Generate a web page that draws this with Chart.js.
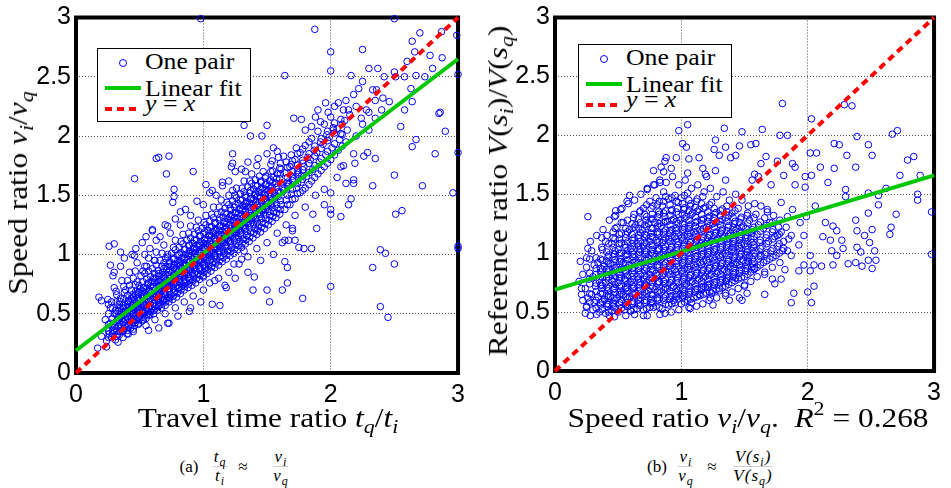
<!DOCTYPE html>
<html lang="en">
<head>
  <meta charset="UTF-8" />
  <title>Speed ratio scatter</title>
  <script src="https://cdn.jsdelivr.net/npm/chart.js"></script>
  <style>
    body { margin: 0; background: #fff; }
    #page { position: relative; width: 951px; height: 488px; overflow: hidden; }
    canvas { position: absolute; top: 0; }
    #chartA { left: 0; }
    #chartB { left: 476px; }
    .cm { position: absolute; font-family: "Liberation Serif", "DejaVu Serif", serif; color: #000; white-space: nowrap; line-height: 1; }
    .cm sub { font-size: 0.7em; vertical-align: -0.3em; line-height: 0; font-style: italic; }
    .cm sup { font-size: 0.7em; vertical-align: 0.6em; line-height: 0; }
    .xt { top: 404px; font-size: 28px; transform: translateX(-50%) scaleX(1.12); }
    .yt { font-size: 28px; transform: translate(-50%, -50%) rotate(-90deg) scaleX(1.12); }
    .legend { position: absolute; width: 154px; height: 74px; box-sizing: border-box; border: 1px solid #000; background: #fff; }
    .legend span { position: absolute; }
    .mk { left: 21px; top: 10px; width: 6px; height: 6px; border: 1px solid #0000ff; border-radius: 50%; }
    .fit { left: 7px; top: 37px; width: 36px; height: 4px; background: #00c800; }
    .idl { left: 7px; top: 58px; width: 36px; height: 4px; background: repeating-linear-gradient(90deg, #ff0000 0 7px, transparent 7px 12px); }
    .legend .lt { left: 47px; font-size: 23px; transform: scaleX(1.12); transform-origin: left; }
    .cp { top: 458px; font-size: 17px; transform: translateX(-50%); }
    .frac { top: 448px; font-size: 17px; font-style: italic; letter-spacing: 1px; transform: translateX(-50%);
            display: flex; flex-direction: column; align-items: center; }
    .frac b { font-weight: normal; display: block; line-height: 1.05; }
    .frac b:first-child { border-bottom: 1px solid #ccc; padding: 0 1px; }
  </style>
</head>
<body>
<div id="page">
  <canvas id="chartA" width="475" height="410"></canvas>
  <canvas id="chartB" width="475" height="410"></canvas>

  <div class="cm yt" style="left:18px;top:193px">Speed ratio <i>v</i><sub>i</sub>/<i>v</i><sub>q</sub></div>
  <div class="cm yt" style="left:498px;top:191px">Reference ratio <i>V</i>(<i>s</i><sub>i</sub>)/<i>V</i>(<i>s</i><sub>q</sub>)</div>
  <div class="cm xt" style="left:268px">Travel time ratio <i>t</i><sub>q</sub>/<i>t</i><sub>i</sub></div>
  <div class="cm xt" style="left:748px">Speed ratio <i>v</i><sub>i</sub>/<i>v</i><sub>q</sub>. &nbsp;<i>R</i><sup>2</sup> = 0.268</div>

  <div class="legend" style="left:97px;top:48px">
    <span class="mk"></span><span class="cm lt" style="top:1px">One pair</span>
    <span class="fit"></span><span class="cm lt" style="top:28px">Linear fit</span>
    <span class="idl"></span><span class="cm lt" style="top:43px"><i>y</i> = <i>x</i></span>
  </div>
  <div class="legend" style="left:578px;top:44px">
    <span class="mk"></span><span class="cm lt" style="top:1px">One pair</span>
    <span class="fit"></span><span class="cm lt" style="top:28px">Linear fit</span>
    <span class="idl"></span><span class="cm lt" style="top:43px"><i>y</i> = <i>x</i></span>
  </div>

  <div class="cm cp" style="left:189px">(a)</div>
  <div class="cm frac" style="left:220px"><b>t<sub>q</sub></b><b>t<sub>i</sub></b></div>
  <div class="cm cp" style="left:243px">≈</div>
  <div class="cm frac" style="left:281px"><b>v<sub>i</sub></b><b>v<sub>q</sub></b></div>

  <div class="cm cp" style="left:657px">(b)</div>
  <div class="cm frac" style="left:686px"><b>v<sub>i</sub></b><b>v<sub>q</sub></b></div>
  <div class="cm cp" style="left:712px">≈</div>
  <div class="cm frac" style="left:753px"><b>V(s<sub>i</sub>)</b><b>V(s<sub>q</sub>)</b></div>
</div>

<script>
  // ticks shared by both panels
  const xTicks = [0, 1, 2, 3];
  const yTicks = [0, 0.5, 1, 1.5, 2, 2.5, 3];

  // reference line y = x and the fitted lines (end points)
  const identityLine = [[0, 0], [3, 3]];
  const fitA = [[0, 0.19], [3, 2.65]];
  const fitB = [[0, 0.69], [3, 1.66]];

  // panel (a): travel time ratio vs speed ratio, dense band
  const coreA = [
    [0.24,0.27],[0.26,0.33],[0.25,0.38],[0.23,0.45],[0.27,0.55],[0.25,0.62],
    [0.28,0.30],[0.29,0.36],[0.27,0.42],[0.30,0.50],[0.28,0.60],
    [0.31,0.28],[0.32,0.35],[0.30,0.40],[0.33,0.47],[0.31,0.53],[0.32,0.66],[0.30,0.72],
    [0.34,0.32],[0.35,0.38],[0.33,0.44],[0.36,0.51],[0.34,0.58],[0.35,0.63],
    [0.37,0.35],[0.38,0.40],[0.36,0.46],[0.39,0.52],[0.37,0.57],[0.38,0.68],[0.36,0.78],
    [0.40,0.33],[0.41,0.39],[0.39,0.45],[0.42,0.50],[0.40,0.55],[0.41,0.61],[0.39,0.70],[0.42,0.85],
    [0.43,0.38],[0.44,0.44],[0.42,0.48],[0.45,0.54],[0.43,0.60],[0.44,0.66],[0.42,0.74],
    [0.46,0.40],[0.47,0.45],[0.45,0.51],[0.48,0.56],[0.46,0.62],[0.47,0.69],[0.45,0.80],[0.48,0.93],
    [0.49,0.42],[0.50,0.48],[0.48,0.53],[0.51,0.58],[0.49,0.64],[0.50,0.71],[0.48,0.77],
    [0.52,0.44],[0.53,0.50],[0.51,0.55],[0.54,0.60],[0.52,0.66],[0.53,0.72],[0.51,0.82],[0.54,0.90],
    [0.55,0.46],[0.56,0.52],[0.54,0.57],[0.57,0.62],[0.55,0.68],[0.56,0.75],[0.54,0.84],[0.57,0.97],
    [0.58,0.49],[0.59,0.54],[0.57,0.60],[0.60,0.65],[0.58,0.70],[0.59,0.77],[0.57,0.86],
    [0.61,0.50],[0.62,0.56],[0.60,0.62],[0.63,0.67],[0.61,0.73],[0.62,0.80],[0.60,0.88],[0.63,1.02],
    [0.64,0.53],[0.65,0.59],[0.63,0.64],[0.66,0.70],[0.64,0.76],[0.65,0.82],[0.63,0.91],
    [0.67,0.55],[0.68,0.61],[0.66,0.67],[0.69,0.72],[0.67,0.78],[0.68,0.85],[0.66,0.95],[0.69,1.08],
    [0.70,0.57],[0.71,0.63],[0.69,0.69],[0.72,0.75],[0.70,0.80],[0.71,0.87],[0.69,0.93],[0.72,1.00],
    [0.73,0.60],[0.74,0.66],[0.72,0.71],[0.75,0.77],[0.73,0.83],[0.74,0.90],[0.72,0.98],
    [0.76,0.62],[0.77,0.68],[0.75,0.74],[0.78,0.79],[0.76,0.86],[0.77,0.92],[0.75,1.01],[0.78,1.12],
    [0.79,0.64],[0.80,0.71],[0.78,0.77],[0.81,0.82],[0.79,0.88],[0.80,0.95],[0.78,1.04],
    [0.82,0.67],[0.83,0.73],[0.81,0.79],[0.84,0.85],[0.82,0.91],[0.83,0.97],[0.81,1.06],[0.84,1.17],
    [0.85,0.70],[0.86,0.76],[0.84,0.82],[0.87,0.88],[0.85,0.93],[0.86,1.00],[0.84,1.09],
    [0.88,0.72],[0.89,0.78],[0.87,0.84],[0.90,0.90],[0.88,0.96],[0.89,1.03],[0.87,1.12],[0.90,1.24],
    [0.91,0.74],[0.92,0.81],[0.90,0.87],[0.93,0.93],[0.91,0.99],[0.92,1.05],[0.90,1.14],
    [0.94,0.76],[0.95,0.83],[0.93,0.89],[0.96,0.95],[0.94,1.01],[0.95,1.08],[0.93,1.17],[0.96,1.29],
    [0.97,0.79],[0.98,0.86],[0.96,0.92],[0.99,0.98],[0.97,1.04],[0.98,1.11],[0.96,1.20],
    [1.00,0.82],[1.01,0.88],[0.99,0.94],[1.02,1.00],[1.00,1.06],[1.01,1.13],[0.99,1.22],[1.02,1.33],
    [1.03,0.84],[1.04,0.91],[1.02,0.97],[1.05,1.03],[1.03,1.09],[1.04,1.16],[1.02,1.25],
    [1.06,0.86],[1.07,0.93],[1.05,0.99],[1.08,1.05],[1.06,1.12],[1.07,1.19],[1.05,1.28],[1.08,1.40],
    [1.09,0.89],[1.10,0.96],[1.08,1.02],[1.11,1.08],[1.09,1.14],[1.10,1.21],[1.08,1.31],
    [1.12,0.91],[1.13,0.98],[1.11,1.05],[1.14,1.11],[1.12,1.17],[1.13,1.24],[1.11,1.34],[1.14,1.46],
    [1.15,0.94],[1.16,1.01],[1.14,1.07],[1.17,1.13],[1.15,1.20],[1.16,1.27],[1.14,1.36],
    [1.18,0.96],[1.19,1.03],[1.17,1.10],[1.20,1.16],[1.18,1.23],[1.19,1.30],[1.17,1.39],[1.20,1.50],
    [1.21,0.99],[1.22,1.06],[1.20,1.12],[1.23,1.19],[1.21,1.25],[1.22,1.33],[1.20,1.42],
    [1.24,1.01],[1.25,1.08],[1.23,1.15],[1.26,1.21],[1.24,1.28],[1.25,1.35],[1.23,1.45],[1.26,1.56],
    [1.27,1.04],[1.28,1.11],[1.26,1.18],[1.29,1.24],[1.27,1.31],[1.28,1.38],[1.26,1.48],
    [1.30,1.06],[1.31,1.13],[1.29,1.20],[1.32,1.27],[1.30,1.34],[1.31,1.41],[1.29,1.51],[1.32,1.62],
    [1.33,1.09],[1.34,1.16],[1.32,1.23],[1.35,1.30],[1.33,1.37],[1.34,1.44],[1.32,1.53],
    [1.36,1.11],[1.37,1.19],[1.35,1.26],[1.38,1.33],[1.36,1.40],[1.37,1.47],[1.35,1.57],[1.38,1.68],
    [1.39,1.14],[1.40,1.22],[1.38,1.29],[1.41,1.36],[1.39,1.43],[1.40,1.50],[1.38,1.60],
    [1.42,1.17],[1.43,1.24],[1.41,1.31],[1.44,1.38],[1.42,1.45],[1.43,1.53],[1.41,1.63],
    [1.45,1.19],[1.46,1.27],[1.44,1.34],[1.47,1.41],[1.45,1.48],[1.46,1.56],[1.44,1.66],
    [1.48,1.22],[1.49,1.30],[1.47,1.37],[1.50,1.44],[1.48,1.51],[1.49,1.59],[1.47,1.70],
    [1.51,1.25],[1.52,1.33],[1.50,1.40],[1.53,1.47],[1.51,1.54],[1.52,1.62],
    [1.54,1.28],[1.55,1.36],[1.53,1.43],[1.56,1.50],[1.54,1.57],[1.55,1.65],[1.53,1.76],
    [1.57,1.31],[1.58,1.39],[1.56,1.46],[1.59,1.53],[1.57,1.60],[1.58,1.68],
    [1.60,1.34],[1.61,1.42],[1.59,1.49],[1.62,1.56],[1.60,1.64],[1.61,1.72],[1.59,1.82],
    [1.64,1.38],[1.65,1.46],[1.63,1.54],[1.66,1.61],[1.64,1.69],[1.65,1.78],
    [1.68,1.42],[1.69,1.51],[1.67,1.59],[1.70,1.66],[1.68,1.74],[1.69,1.84],
    [1.72,1.47],[1.73,1.56],[1.71,1.64],[1.74,1.71],[1.72,1.80],[1.73,1.90],
    [1.76,1.52],[1.77,1.61],[1.75,1.69],[1.78,1.77],[1.76,1.86],
    [1.80,1.56],[1.81,1.66],[1.79,1.74],[1.82,1.82],[1.80,1.92],
    [1.85,1.62],[1.86,1.72],[1.84,1.80],[1.87,1.88],[1.85,1.98],
    [1.90,1.68],[1.91,1.78],[1.89,1.86],[1.92,1.95],[1.90,2.04],
    [1.95,1.74],[1.96,1.84],[1.94,1.93],[1.97,2.01],[1.95,2.10],
    [2.00,1.80],[2.01,1.90],[1.99,1.99],[2.02,2.07],[2.00,2.16],
    [2.06,1.88],[2.07,1.97],[2.05,2.06],[2.08,2.14],
    [2.12,1.95],[2.13,2.05],[2.11,2.13],[2.14,2.22]
  ];
  // more of the band, read as columns: [x, [y values]]
  const bandA = [
    [0.255,[0.30,0.355,0.41,0.50,0.58]],
    [0.285,[0.33,0.39,0.46,0.55]],
    [0.315,[0.31,0.375,0.435,0.50,0.60,0.69]],
    [0.345,[0.35,0.41,0.475,0.545,0.605]],
    [0.375,[0.375,0.43,0.49,0.545,0.625,0.73]],
    [0.405,[0.36,0.42,0.475,0.525,0.58,0.655,0.78]],
    [0.435,[0.41,0.46,0.51,0.57,0.63,0.70]],
    [0.465,[0.425,0.48,0.535,0.59,0.655,0.745,0.86]],
    [0.495,[0.45,0.505,0.555,0.61,0.675,0.74]],
    [0.525,[0.47,0.525,0.575,0.63,0.69,0.77,0.86]],
    [0.555,[0.49,0.545,0.595,0.65,0.715,0.795,0.90]],
    [0.585,[0.515,0.57,0.625,0.675,0.735,0.815]],
    [0.615,[0.53,0.59,0.645,0.70,0.765,0.84,0.95]],
    [0.645,[0.56,0.615,0.67,0.73,0.79,0.865]],
    [0.675,[0.58,0.64,0.695,0.75,0.815,0.90,1.01]],
    [0.705,[0.60,0.66,0.72,0.775,0.835,0.90,0.965]],
    [0.735,[0.63,0.685,0.74,0.80,0.865,0.94]],
    [0.765,[0.65,0.71,0.765,0.825,0.89,0.965,1.06]],
    [0.795,[0.675,0.74,0.795,0.85,0.915,0.995]],
    [0.825,[0.70,0.76,0.82,0.88,0.94,1.015,1.11]],
    [0.855,[0.73,0.79,0.85,0.905,0.965,1.045]],
    [0.885,[0.75,0.81,0.87,0.93,0.995,1.075,1.18]],
    [0.915,[0.775,0.84,0.90,0.96,1.02,1.095]],
    [0.945,[0.795,0.86,0.92,0.98,1.045,1.125,1.23]],
    [0.975,[0.825,0.89,0.95,1.01,1.075,1.155]],
    [1.005,[0.85,0.91,0.97,1.03,1.095,1.175,1.27]],
    [1.035,[0.875,0.94,1.00,1.06,1.125,1.205]],
    [1.065,[0.895,0.96,1.02,1.085,1.155,1.235,1.34]],
    [1.095,[0.925,0.99,1.05,1.11,1.175,1.26]],
    [1.125,[0.945,1.015,1.08,1.14,1.205,1.29,1.40]],
    [1.155,[0.975,1.04,1.10,1.165,1.235,1.315]],
    [1.185,[0.995,1.065,1.13,1.195,1.265,1.345,1.44]],
    [1.215,[1.025,1.09,1.155,1.22,1.29,1.375]],
    [1.245,[1.045,1.115,1.18,1.245,1.315,1.40,1.50]],
    [1.275,[1.075,1.145,1.21,1.275,1.345,1.43]],
    [1.305,[1.095,1.165,1.235,1.305,1.375,1.46,1.56]],
    [1.335,[1.125,1.195,1.265,1.335,1.405,1.485]],
    [1.365,[1.15,1.225,1.295,1.365,1.435,1.52,1.62]],
    [1.395,[1.18,1.255,1.325,1.395,1.465,1.55]],
    [1.425,[1.205,1.275,1.345,1.415,1.49,1.58]],
    [1.455,[1.23,1.305,1.375,1.445,1.52,1.61]],
    [1.485,[1.26,1.335,1.405,1.475,1.55,1.645]],
    [1.515,[1.29,1.365,1.435,1.505,1.58]],
    [1.545,[1.32,1.395,1.465,1.535,1.61,1.705]],
    [1.575,[1.35,1.425,1.495,1.565,1.64]],
    [1.605,[1.38,1.455,1.525,1.60,1.68,1.77]],
    [1.66,[1.42,1.50,1.575,1.65,1.735]],
    [1.70,[1.465,1.55,1.625,1.70,1.79]],
    [1.74,[1.515,1.60,1.675,1.755,1.85]],
    [1.78,[1.54,1.635,1.715,1.795,1.89]],
    [1.83,[1.59,1.69,1.77,1.85,1.95]],
    [1.875,[1.65,1.75,1.83,1.915]],
    [1.925,[1.71,1.81,1.895,1.98]],
    [1.975,[1.77,1.87,1.96,2.04]],
    [2.03,[1.84,1.935,2.025,2.11]],
    [2.09,[1.915,2.01,2.10]]
  ];
  const ridgeA = [
    [0.33,[0.26,0.33,0.39,0.45,0.52]],
    [0.37,[0.30,0.36,0.43,0.49,0.55]],
    [0.41,[0.33,0.40,0.46,0.53,0.60]],
    [0.45,[0.37,0.43,0.50,0.57,0.64]],
    [0.49,[0.41,0.47,0.54,0.61,0.68]],
    [0.53,[0.45,0.51,0.58,0.65,0.72]],
    [0.57,[0.49,0.55,0.62,0.69,0.76]],
    [0.61,[0.53,0.59,0.66,0.73,0.80]],
    [0.65,[0.57,0.63,0.70,0.77,0.84]],
    [0.69,[0.61,0.67,0.74,0.81,0.88]],
    [0.73,[0.64,0.71,0.78,0.85,0.92]],
    [0.77,[0.68,0.75,0.82,0.89,0.96]],
    [0.81,[0.72,0.79,0.86,0.93,1.00]],
    [0.85,[0.76,0.83,0.90,0.97,1.04]],
    [0.89,[0.80,0.87,0.94,1.01,1.08]],
    [0.93,[0.84,0.91,0.98,1.05,1.12]],
    [0.97,[0.88,0.95,1.02,1.09,1.16]],
    [1.01,[0.91,0.98,1.05,1.12,1.19]],
    [1.05,[0.95,1.02,1.09,1.16,1.23]],
    [1.09,[0.99,1.06,1.13,1.20,1.27]],
    [1.13,[1.03,1.10,1.17,1.24,1.31]],
    [1.17,[1.07,1.14,1.21,1.28,1.35]],
    [1.21,[1.11,1.18,1.25,1.32,1.39]],
    [1.25,[1.14,1.21,1.28,1.35,1.42]],
    [1.29,[1.18,1.25,1.32,1.39,1.46]],
    [1.33,[1.22,1.29,1.36,1.43,1.50]],
    [1.37,[1.26,1.33,1.40,1.47,1.54]],
    [1.41,[1.30,1.37,1.44,1.51,1.58]],
    [1.45,[1.34,1.41,1.48,1.55,1.62]],
    [1.49,[1.38,1.45,1.52,1.59,1.66]],
    [1.53,[1.42,1.49,1.56,1.63,1.70]]
  ];
  const haloA = [
    [0.30,0.85],[0.35,0.90],[0.38,0.97],[0.44,1.00],[0.47,1.05],[0.52,1.10],[0.55,1.15],[0.58,1.05],
    [0.60,1.20],[0.62,0.95],[0.66,1.15],[0.70,1.25],[0.74,1.18],[0.78,1.30],[0.82,1.25],[0.86,1.38],
    [0.90,1.33],[0.95,1.45],[1.00,1.42],[1.05,1.52],[1.10,1.50],[1.15,1.58],[1.20,1.62],[1.25,1.70],
    [1.30,1.72],[1.35,1.78],[1.42,1.75],[1.50,1.85],[1.55,1.90],
    [0.45,0.35],[0.55,0.40],[0.62,0.45],[0.70,0.50],[0.78,0.55],[0.85,0.60],[0.92,0.65],[1.00,0.70],
    [1.05,0.76],[1.12,0.80],[1.20,0.85],[1.28,0.92],[1.35,0.98],[1.42,1.05],[1.50,1.10],[1.58,1.18],
    [1.65,1.25],[1.72,1.33],[1.80,1.40],[1.88,1.50],[1.95,1.55],[2.05,1.65],[2.10,1.75],[2.18,1.85],
    [2.20,2.00],[2.25,2.10],[2.30,2.20],[2.35,2.30],[1.62,1.10],[1.70,1.22],[1.55,1.00],[1.45,0.95],
    [1.35,0.85],[1.25,0.80],[1.18,0.72],[0.98,0.60],[0.90,0.55],[0.80,0.48],[0.72,0.42],[0.65,0.38],[0.57,0.36],
    [1.92,2.12],[1.98,2.20],[2.03,2.25],[2.06,2.28],[2.10,2.22],[2.15,2.18],[2.02,2.05],[2.08,2.02],
    [1.96,2.28],[2.12,2.30],[2.20,2.25],[2.18,2.35],[2.22,2.40],[1.90,2.22],[1.85,2.08],[2.28,2.22],
    [2.24,2.15],[2.30,2.05],[2.35,2.15],[2.40,2.22],[1.80,2.05],[1.88,2.16]
  ];
  const outliersA = [
    [0.98,2.99],[2.50,2.99],[1.875,2.90],[2.70,2.87],[2.87,2.88],[2.99,2.85],[2.64,2.80],[2.00,2.71],[2.25,2.73],
    [2.66,2.71],[2.60,2.63],[2.78,2.68],[2.875,2.66],[2.80,2.57],[2.30,2.57],[2.37,2.57],[2.50,2.54],[2.51,2.50],
    [2.42,2.50],[2.58,2.50],[2.67,2.51],[3.00,2.52],[2.63,2.40],[2.64,2.29],[2.74,2.50],[2.58,2.22],[2.41,2.32],
    [2.46,2.29],[2.36,2.39],[2.33,2.39],[2.25,2.46],[2.16,2.51],[2.00,2.55],[1.64,2.51],
    [2.85,2.19],[2.86,2.20],[2.90,2.04],[2.82,1.85],[2.64,1.91],[2.67,1.97],[2.55,2.08],[2.72,1.58],[2.50,1.67],
    [3.00,1.86],[2.96,1.52],[2.51,1.34],[2.56,1.37],[2.33,1.58],[3.00,1.07],[3.00,1.05],[2.39,1.04],[2.43,1.01],
    [2.33,0.89],[2.50,0.92],[2.39,0.56],[2.45,0.47],[2.00,0.73],[1.78,0.63],[1.62,0.70],[1.66,0.76],[1.64,0.94],
    [1.66,0.89],[1.52,0.60],[1.50,0.70],[1.39,0.70],[1.40,0.81],[1.32,1.03],
    [2.26,1.83],[2.35,1.81],[2.29,1.86],[2.19,1.77],[2.08,1.74],[2.18,1.60],[2.12,1.60],[2.18,1.63],[2.14,1.42],
    [2.16,1.47],[2.08,1.32],[2.00,1.34],[2.00,1.52],[2.00,1.38],[1.95,1.42],[1.89,1.22],[1.86,1.34],[1.79,1.05],
    [1.85,1.05],[1.75,1.06],[1.72,1.12],[1.70,1.20],[1.64,1.12],[1.67,1.12],
    [0.63,1.81],[0.65,1.82],[0.73,1.83],[0.46,1.64],[0.71,1.68],[0.92,1.70],[1.32,2.09],[1.37,2.00],[1.46,2.00],
    [1.50,2.09],[1.71,2.15],[1.77,2.14],[1.22,1.74],[1.23,1.85],[1.33,1.70],
    [0.26,1.07],[0.30,1.09],[0.35,1.02],[0.27,0.91],[0.29,0.82],[0.18,0.64],[0.20,0.61],[0.17,0.21],[0.20,0.31],
    [0.24,0.22],[0.46,0.99],[0.54,1.00],[0.60,1.21],[0.63,1.12],[0.72,1.24],[0.82,1.36],[0.76,1.44],[0.77,1.49],
    [0.77,1.55],[0.89,0.52],[0.73,0.42],[1.07,0.58],[1.13,0.57],[1.00,0.81],[1.09,0.78],[1.17,0.74],[1.24,0.92],
    [1.30,0.96],[1.02,1.59],[1.07,1.54],[1.15,1.61],[1.23,1.77],[1.23,1.54],[1.43,1.81],[1.54,1.79],[1.58,1.87],
    [1.63,1.83],[1.60,1.73],[1.69,1.76],[1.77,1.66],[1.67,1.60]
  ];

  // panel (b): speed ratio vs reference ratio, dense blob
  const coreB = [
    [0.25,0.55],[0.26,0.62],[0.24,0.70],[0.27,0.78],[0.25,0.88],
    [0.30,0.52],[0.31,0.58],[0.29,0.65],[0.32,0.72],[0.30,0.80],[0.31,0.90],[0.29,1.02],
    [0.35,0.50],[0.36,0.56],[0.34,0.63],[0.37,0.70],[0.35,0.77],[0.36,0.84],[0.34,0.92],[0.37,1.05],
    [0.40,0.49],[0.41,0.55],[0.39,0.61],[0.42,0.68],[0.40,0.75],[0.41,0.82],[0.39,0.89],[0.42,0.97],[0.40,1.10],
    [0.45,0.51],[0.46,0.57],[0.44,0.63],[0.47,0.70],[0.45,0.77],[0.46,0.84],[0.44,0.91],[0.47,0.99],[0.45,1.08],[0.46,1.18],
    [0.50,0.50],[0.51,0.56],[0.49,0.62],[0.52,0.68],[0.50,0.75],[0.51,0.82],[0.49,0.88],[0.52,0.95],[0.50,1.03],[0.51,1.12],[0.49,1.22],
    [0.55,0.52],[0.56,0.58],[0.54,0.65],[0.57,0.71],[0.55,0.78],[0.56,0.85],[0.54,0.92],[0.57,0.99],[0.55,1.07],[0.56,1.16],[0.54,1.26],
    [0.60,0.51],[0.61,0.57],[0.59,0.63],[0.62,0.70],[0.60,0.76],[0.61,0.83],[0.59,0.90],[0.62,0.97],[0.60,1.04],[0.61,1.11],[0.59,1.20],[0.62,1.30],
    [0.65,0.53],[0.66,0.60],[0.64,0.66],[0.67,0.73],[0.65,0.80],[0.66,0.87],[0.64,0.94],[0.67,1.01],[0.65,1.08],[0.66,1.15],[0.64,1.24],[0.67,1.35],
    [0.70,0.52],[0.71,0.58],[0.69,0.65],[0.72,0.72],[0.70,0.78],[0.71,0.85],[0.69,0.92],[0.72,0.99],[0.70,1.06],[0.71,1.13],[0.69,1.20],[0.72,1.28],[0.70,1.38],
    [0.75,0.54],[0.76,0.61],[0.74,0.68],[0.77,0.75],[0.75,0.82],[0.76,0.89],[0.74,0.96],[0.77,1.03],[0.75,1.10],[0.76,1.17],[0.74,1.25],[0.77,1.33],[0.75,1.44],
    [0.80,0.55],[0.81,0.62],[0.79,0.69],[0.82,0.76],[0.80,0.83],[0.81,0.90],[0.79,0.97],[0.82,1.04],[0.80,1.11],[0.81,1.18],[0.79,1.26],[0.82,1.35],[0.80,1.47],
    [0.85,0.53],[0.86,0.60],[0.84,0.67],[0.87,0.74],[0.85,0.81],[0.86,0.88],[0.84,0.95],[0.87,1.02],[0.85,1.09],[0.86,1.16],[0.84,1.23],[0.87,1.31],[0.85,1.40],[0.86,1.52],
    [0.90,0.56],[0.91,0.63],[0.89,0.70],[0.92,0.77],[0.90,0.84],[0.91,0.91],[0.89,0.98],[0.92,1.05],[0.90,1.12],[0.91,1.19],[0.89,1.27],[0.92,1.36],[0.90,1.46],
    [0.95,0.58],[0.96,0.65],[0.94,0.72],[0.97,0.79],[0.95,0.86],[0.96,0.93],[0.94,1.00],[0.97,1.07],[0.95,1.14],[0.96,1.21],[0.94,1.29],[0.97,1.38],[0.95,1.49],
    [1.00,0.57],[1.01,0.64],[0.99,0.71],[1.02,0.78],[1.00,0.85],[1.01,0.92],[0.99,0.99],[1.02,1.06],[1.00,1.13],[1.01,1.20],[0.99,1.28],[1.02,1.37],[1.00,1.47],
    [1.05,0.60],[1.06,0.67],[1.04,0.74],[1.07,0.81],[1.05,0.88],[1.06,0.95],[1.04,1.02],[1.07,1.09],[1.05,1.16],[1.06,1.23],[1.04,1.31],[1.07,1.40],[1.05,1.51],
    [1.10,0.62],[1.11,0.69],[1.09,0.76],[1.12,0.83],[1.10,0.90],[1.11,0.97],[1.09,1.04],[1.12,1.11],[1.10,1.18],[1.11,1.26],[1.09,1.34],[1.12,1.44],
    [1.15,0.64],[1.16,0.71],[1.14,0.78],[1.17,0.85],[1.15,0.92],[1.16,0.99],[1.14,1.06],[1.17,1.13],[1.15,1.20],[1.16,1.28],[1.14,1.37],[1.17,1.48],
    [1.20,0.66],[1.21,0.73],[1.19,0.80],[1.22,0.87],[1.20,0.94],[1.21,1.01],[1.19,1.08],[1.22,1.15],[1.20,1.22],[1.21,1.30],[1.19,1.39],
    [1.25,0.68],[1.26,0.75],[1.24,0.82],[1.27,0.89],[1.25,0.96],[1.26,1.03],[1.24,1.10],[1.27,1.17],[1.25,1.25],[1.26,1.33],[1.24,1.43],
    [1.30,0.70],[1.31,0.77],[1.29,0.84],[1.32,0.91],[1.30,0.98],[1.31,1.05],[1.29,1.12],[1.32,1.19],[1.30,1.27],[1.31,1.36],
    [1.35,0.72],[1.36,0.79],[1.34,0.86],[1.37,0.93],[1.35,1.00],[1.36,1.07],[1.34,1.14],[1.37,1.22],[1.35,1.30],[1.36,1.40],
    [1.40,0.75],[1.41,0.82],[1.39,0.89],[1.42,0.96],[1.40,1.03],[1.41,1.10],[1.39,1.17],[1.42,1.25],[1.40,1.34],
    [1.45,0.78],[1.46,0.85],[1.44,0.92],[1.47,0.99],[1.45,1.06],[1.46,1.13],[1.44,1.21],[1.47,1.29],[1.45,1.38],
    [1.50,0.80],[1.51,0.87],[1.49,0.94],[1.52,1.01],[1.50,1.08],[1.51,1.15],[1.49,1.23],[1.52,1.32],
    [1.55,0.84],[1.56,0.91],[1.54,0.98],[1.57,1.05],[1.55,1.12],[1.56,1.20],[1.54,1.28],
    [1.60,0.88],[1.61,0.95],[1.59,1.02],[1.62,1.09],[1.60,1.16],[1.61,1.24],[1.59,1.33],
    [1.65,0.92],[1.66,0.99],[1.64,1.06],[1.67,1.13],[1.65,1.21],[1.66,1.30],
    [1.70,0.95],[1.71,1.02],[1.69,1.10],[1.72,1.18],[1.70,1.26],
    [1.75,0.98],[1.76,1.06],[1.74,1.14],[1.77,1.22],
    [1.80,1.02],[1.81,1.10],[1.79,1.18]
  ];
  // more of the blob, read as columns: [x, [y values]]
  const blobB = [
    [0.275,[0.585,0.655,0.74,0.83,0.95]],
    [0.325,[0.535,0.60,0.675,0.745,0.82,0.87,0.96]],
    [0.375,[0.525,0.59,0.655,0.725,0.795,0.865,0.94,1.03]],
    [0.425,[0.50,0.565,0.63,0.70,0.77,0.84,0.91,0.985,1.08]],
    [0.475,[0.535,0.60,0.665,0.735,0.805,0.875,0.945,1.02,1.12,1.21]],
    [0.525,[0.53,0.59,0.655,0.72,0.79,0.86,0.93,1.00,1.085,1.17,1.26]],
    [0.575,[0.545,0.61,0.675,0.74,0.81,0.875,0.945,1.02,1.095,1.18,1.28]],
    [0.625,[0.52,0.585,0.65,0.715,0.78,0.85,0.92,0.99,1.06,1.13,1.22,1.33]],
    [0.675,[0.555,0.62,0.685,0.75,0.82,0.885,0.955,1.03,1.10,1.175,1.26,1.36]],
    [0.725,[0.53,0.595,0.66,0.73,0.80,0.87,0.94,1.01,1.08,1.15,1.225,1.31,1.41]],
    [0.775,[0.575,0.645,0.715,0.785,0.855,0.925,0.995,1.065,1.135,1.21,1.29,1.40]],
    [0.825,[0.54,0.61,0.68,0.75,0.82,0.89,0.96,1.03,1.10,1.17,1.25,1.33,1.44]],
    [0.875,[0.565,0.635,0.705,0.775,0.845,0.915,0.985,1.055,1.125,1.195,1.27,1.36,1.48]],
    [0.925,[0.57,0.64,0.71,0.78,0.85,0.92,0.99,1.06,1.13,1.20,1.28,1.37,1.47]],
    [0.975,[0.61,0.68,0.75,0.82,0.89,0.96,1.03,1.10,1.17,1.25,1.33,1.43]],
    [1.025,[0.585,0.655,0.725,0.795,0.865,0.935,1.005,1.075,1.145,1.215,1.295,1.385,1.49]],
    [1.075,[0.61,0.68,0.75,0.82,0.89,0.96,1.03,1.10,1.17,1.245,1.325,1.42]],
    [1.125,[0.63,0.70,0.77,0.84,0.91,0.98,1.05,1.12,1.19,1.27,1.355,1.46]],
    [1.175,[0.65,0.72,0.79,0.86,0.93,1.00,1.07,1.14,1.21,1.29,1.38]],
    [1.225,[0.67,0.74,0.81,0.88,0.95,1.02,1.09,1.16,1.235,1.315,1.41]],
    [1.275,[0.69,0.76,0.83,0.90,0.97,1.04,1.11,1.18,1.26,1.345]],
    [1.325,[0.71,0.78,0.85,0.92,0.99,1.06,1.13,1.205,1.285,1.375]],
    [1.375,[0.735,0.805,0.875,0.945,1.015,1.085,1.155,1.235,1.32]],
    [1.425,[0.765,0.835,0.905,0.975,1.045,1.115,1.19,1.27,1.36]],
    [1.475,[0.79,0.86,0.93,1.00,1.07,1.14,1.22,1.305]],
    [1.525,[0.82,0.89,0.96,1.03,1.10,1.175,1.255,1.34]],
    [1.575,[0.86,0.93,1.00,1.07,1.14,1.22,1.30]],
    [1.625,[0.90,0.97,1.04,1.11,1.185,1.265]],
    [1.675,[0.935,1.005,1.08,1.155,1.235]],
    [1.725,[0.965,1.04,1.12,1.20]],
    [1.775,[1.00,1.08,1.16]]
  ];
  const heartB = [
    [0.36,[0.58,0.66,0.73,0.80,0.87,0.95]],
    [0.41,[0.57,0.64,0.71,0.79,0.86,0.93,1.01]],
    [0.46,[0.55,0.62,0.69,0.76,0.83,0.90,0.97,1.05,1.13]],
    [0.51,[0.58,0.65,0.72,0.79,0.86,0.93,1.00,1.08,1.16]],
    [0.56,[0.56,0.63,0.70,0.77,0.84,0.91,0.98,1.05,1.13,1.21]],
    [0.61,[0.59,0.66,0.73,0.80,0.87,0.94,1.01,1.08,1.16,1.25]],
    [0.66,[0.57,0.64,0.71,0.78,0.85,0.92,0.99,1.06,1.13,1.21,1.29]],
    [0.71,[0.60,0.67,0.74,0.81,0.88,0.95,1.02,1.09,1.16,1.24,1.33]],
    [0.76,[0.58,0.65,0.72,0.79,0.86,0.93,1.00,1.07,1.14,1.21,1.29,1.38]],
    [0.81,[0.60,0.67,0.74,0.81,0.88,0.95,1.02,1.09,1.16,1.23,1.31,1.41]],
    [0.86,[0.62,0.69,0.76,0.83,0.90,0.97,1.04,1.11,1.18,1.26,1.34,1.44]],
    [0.91,[0.61,0.68,0.75,0.82,0.89,0.96,1.03,1.10,1.17,1.24,1.32,1.41]],
    [0.96,[0.63,0.70,0.77,0.84,0.91,0.98,1.05,1.12,1.19,1.27,1.35,1.44]],
    [1.01,[0.62,0.69,0.76,0.83,0.90,0.97,1.04,1.11,1.18,1.25,1.33,1.42]],
    [1.06,[0.65,0.72,0.79,0.86,0.93,1.00,1.07,1.14,1.21,1.28,1.36,1.45]],
    [1.11,[0.67,0.74,0.81,0.88,0.95,1.02,1.09,1.16,1.23,1.31,1.39]],
    [1.16,[0.69,0.76,0.83,0.90,0.97,1.04,1.11,1.18,1.25,1.33,1.42]],
    [1.21,[0.71,0.78,0.85,0.92,0.99,1.06,1.13,1.20,1.27,1.35]],
    [1.26,[0.73,0.80,0.87,0.94,1.01,1.08,1.15,1.22,1.30,1.38]],
    [1.31,[0.75,0.82,0.89,0.96,1.03,1.10,1.17,1.24,1.32]],
    [1.36,[0.77,0.84,0.91,0.98,1.05,1.12,1.19,1.27,1.35]],
    [1.41,[0.80,0.87,0.94,1.01,1.08,1.15,1.22,1.30]],
    [1.46,[0.83,0.90,0.97,1.04,1.11,1.18,1.26]],
    [1.51,[0.85,0.92,0.99,1.06,1.13,1.21]],
    [1.56,[0.88,0.95,1.02,1.09,1.17]]
  ];
  const haloB = [
    [0.28,1.10],[0.33,1.15],[0.38,1.20],[0.43,1.28],[0.48,1.32],[0.53,1.38],[0.58,1.42],[0.63,1.45],[0.68,1.50],
    [0.73,1.55],[0.78,1.58],[0.83,1.62],[0.88,1.60],[0.93,1.65],[0.98,1.58],[1.03,1.62],[1.08,1.55],[1.13,1.58],
    [1.18,1.52],[1.23,1.55],[1.28,1.48],[1.33,1.52],[1.38,1.45],[1.43,1.50],[1.48,1.45],[1.53,1.40],[1.58,1.42],
    [1.63,1.40],[1.68,1.35],[1.73,1.32],[1.78,1.28],[1.83,1.22],[1.85,1.12],[1.84,1.02],[1.78,0.92],[1.72,0.88],
    [1.66,0.84],[1.60,0.80],[1.55,0.76],[1.50,0.72],[1.45,0.70],[1.40,0.67],[1.35,0.64],[1.28,0.62],[1.22,0.60],
    [1.17,0.57],[1.12,0.55],[1.06,0.54],[0.98,0.52],[0.92,0.50],[0.83,0.48],[0.73,0.47],[0.63,0.48],[0.56,0.47],
    [0.43,0.47],[0.33,0.48],[0.28,0.47],[0.22,0.60],[0.21,0.70],[0.22,0.82],[0.20,0.93],[1.52,0.66],[1.46,0.62],
    [1.38,0.60],[1.25,0.56],[0.78,1.70],[0.92,1.72],[1.05,1.68],[1.20,1.65],[1.35,1.62]
  ];
  const outliersB = [
    [1.80,2.27],[2.29,2.26],[2.35,2.25],[2.03,2.14],[0.98,2.04],[1.05,2.09],[1.34,2.06],[1.48,2.03],[1.64,2.05],
    [1.78,2.00],[1.84,2.00],[2.67,2.01],[2.71,2.04],[2.39,1.99],[2.21,1.93],[2.25,1.92],[2.48,1.92],[2.51,1.83],
    [2.31,1.83],[2.02,1.85],[2.07,1.85],[2.84,1.82],[2.79,1.79],[2.38,1.73],[2.21,1.72],[2.10,1.73],[2.73,1.66],
    [2.89,1.66],[2.16,1.60],[1.98,1.65],[2.03,1.66],[2.30,1.54],[2.30,1.48],[2.48,1.51],[2.56,1.49],[2.62,1.55],
    [2.87,1.50],[2.87,1.45],[2.56,1.41],[2.70,1.33],[2.98,1.35],[2.38,1.28],[2.48,1.34],[2.66,1.22],[2.65,1.16],
    [2.51,1.20],[2.45,1.15],[2.39,1.19],[2.14,1.26],[2.20,1.23],[2.23,1.19],[2.12,1.14],[2.18,1.11],[2.27,1.11],
    [2.49,1.09],[2.53,1.02],[2.54,0.94],[2.39,1.05],[2.42,1.01],[2.48,0.94],[2.19,1.02],[2.23,0.98],[2.28,1.04],
    [2.20,0.90],[2.32,0.91],[2.38,0.92],[2.43,0.89],[2.51,0.87],[2.98,0.99],[2.11,0.89],[2.02,0.98],[2.05,0.90],
    [1.97,0.90],[1.93,0.85],[2.02,0.85],[2.05,0.72],[2.00,0.67],[2.03,0.58],[1.87,0.58],[1.89,0.66],[1.82,0.86],
    [1.79,0.78],[1.72,0.78],[1.74,0.74],[1.66,0.65],[1.48,0.60],[1.35,0.66],[1.23,0.62],[1.24,0.66],[1.07,0.53],
    [1.08,0.58],[0.87,0.49],[0.70,0.47],[0.47,0.46],[0.24,0.49],[0.25,0.54],[0.21,0.65],[0.19,0.76],[0.25,0.96],
    [0.26,1.04],[0.26,1.31],[0.37,1.13],[0.41,1.15],[0.47,1.31],[0.48,1.36],[0.52,1.37],[0.59,1.49],[0.57,1.44],
    [0.73,1.54],[0.79,1.58],[0.83,1.60],[0.87,1.78],[0.84,1.73],[0.96,1.81],[1.06,1.80],[1.14,1.81],[1.26,1.88],
    [1.30,1.83],[1.39,1.81],[1.43,1.83],[1.27,1.96],[1.35,1.90],[1.01,1.93],[1.04,1.90],[1.19,1.67],[1.27,1.70],
    [1.17,1.72],[1.46,1.91],[1.55,1.92],[1.59,1.93],[1.67,1.82],[1.63,1.76],[1.76,1.78],[1.88,1.76],[1.90,1.73],
    [1.81,1.66],[1.90,1.58],[1.98,1.56],[1.58,1.67],[1.61,1.65],[1.56,1.62],[1.71,1.58],[0.88,1.81],[0.86,1.69],
    [1.79,1.43],[1.84,1.31],[1.88,1.37],[1.94,1.26],[1.97,1.15],[1.93,1.07],[1.87,0.98],[1.81,1.04],[1.76,1.15],
    [1.72,1.26],[1.68,1.37],[1.87,1.15],[1.99,1.31],[2.06,1.40],
    [1.63,0.98],[1.58,0.87],[1.53,0.93],[1.66,0.82],[1.50,0.73],[1.43,0.79],[1.35,0.76],[1.30,0.68],[1.19,0.71],
    [1.14,0.65],[0.99,0.65],[0.94,0.60],[0.78,0.54],[0.60,0.51]
  ];

  const tickFont = { family: '"Liberation Sans", Arial, sans-serif', size: 25, lineHeight: 1 };
  const toXY = p => ({ x: p[0], y: p[1] });
  const fromColumns = cols => cols.flatMap(c => c[1].map(y => [c[0], y]));

  // thick black box round the plot area, under the data
  const framePlugin = {
    id: 'frame',
    beforeDatasetsDraw(chart) {
      const { ctx, chartArea: a } = chart;
      ctx.save();
      ctx.lineWidth = 4;
      ctx.strokeStyle = '#000';
      ctx.strokeRect(a.left, a.top, a.right - a.left, a.bottom - a.top);
      ctx.restore();
    }
  };

  function drawPanel(id, pairs, fit, box) {
    new Chart(document.getElementById(id), {
      type: 'scatter',
      data: {
        datasets: [
          { label: 'y = x', type: 'line', data: identityLine.map(toXY), borderColor: '#ff0000',
            borderWidth: 4, borderDash: [7, 5], pointRadius: 0, clip: false, order: 0 },
          { label: 'Linear fit', type: 'line', data: fit.map(toXY), borderColor: '#00c800',
            borderWidth: 4, pointRadius: 0, clip: false, order: 1 },
          { label: 'One pair', data: pairs.map(toXY), pointRadius: 3.3, borderWidth: 1,
            borderColor: '#0000ff', backgroundColor: 'rgba(0,0,0,0)', clip: false, order: 2 }
        ]
      },
      options: {
        responsive: false,
        animation: false,
        events: [],
        layout: { padding: { top: box.top, right: box.right, left: 0, bottom: 0 } },
        plugins: { legend: { display: false }, tooltip: { enabled: false } },
        scales: {
          x: {
            type: 'linear', min: 0, max: 3,
            afterBuildTicks: s => { s.ticks = xTicks.map(v => ({ value: v })); },
            afterFit: s => { s.height = box.xh; },
            ticks: { font: tickFont, color: '#000', padding: 10, maxRotation: 0, callback: v => String(v) },
            grid: { color: '#555', lineWidth: 1, drawTicks: false },
            border: { display: false, dash: [1, 2] }
          },
          y: {
            type: 'linear', min: 0, max: 3,
            afterBuildTicks: s => { s.ticks = yTicks.map(v => ({ value: v })); },
            afterFit: s => { s.width = box.yw; },
            ticks: { font: tickFont, color: '#000', padding: 5, callback: v => String(v) },
            grid: { color: '#555', lineWidth: 1, drawTicks: false },
            border: { display: false, dash: [1, 2] }
          }
        }
      },
      plugins: [framePlugin]
    });
  }

  drawPanel('chartA', coreA.concat(fromColumns(bandA), fromColumns(ridgeA), haloA, outliersA), fitA,
            { top: 13, right: 14, xh: 37, yw: 76 });
  drawPanel('chartB', coreB.concat(fromColumns(blobB), fromColumns(heartB), haloB, outliersB), fitB,
            { top: 11, right: 10, xh: 39, yw: 79 });
</script>
</body>
</html>
